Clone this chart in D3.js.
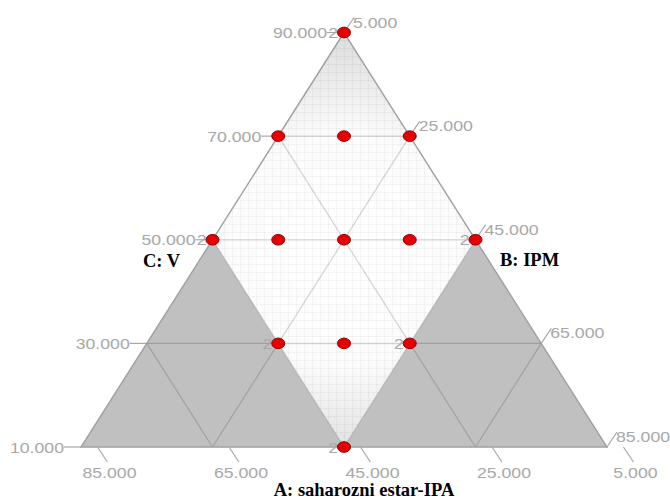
<!DOCTYPE html>
<html>
<head>
<meta charset="utf-8">
<script src="https://cdn.jsdelivr.net/npm/d3@7"></script>
<style>
  html, body { margin: 0; padding: 0; background: #fff; }
  svg { display: block; }
</style>
</head>
<body>
<svg id="chart" width="670" height="500"></svg>
<script>
// ---- data ----
const axisTicks = [10, 30, 50, 70, 90];          // C: V (left axis)
const axisTicksB = [5, 25, 45, 65, 85];          // B: IPM (right axis)
const axisTicksA = [85, 65, 45, 25, 5];          // A (bottom axis)
const gridLevels = [25, 45, 65];                 // A and B grid lines
const gridLevelsC = [30, 50, 70];                // C grid lines
const designA = [5, 25, 15, 5, 45, 35, 25, 15, 5, 45, 35, 25, 45];
const designB = [5, 5, 15, 25, 5, 15, 25, 35, 45, 25, 35, 45, 45];
const designC = [90, 70, 70, 70, 50, 50, 50, 50, 50, 30, 30, 30, 10];
const designCount = [2, 1, 1, 1, 2, 1, 1, 1, 2, 2, 1, 2, 2];
const constraintA = 45, constraintB = 45;
const titleA = "A: saharozni estar-IPA";
const titleB = "B: IPM";
const titleC = "C: V";

// ---- scales ----
const yS = d3.scaleLinear().domain([10, 90]).range([447, 32.5]);
const xS = d3.scaleLinear().domain([-80, 80]).range([81, 607]);
const P = (a, b, c) => [xS(b - a), yS(c)];
const fmt = d3.format(".3f");

const svg = d3.select("#chart");
const defs = svg.append("defs");

// shading of feasible region
const rg = defs.append("radialGradient").attr("id", "shade")
  .attr("gradientUnits", "userSpaceOnUse")
  .attr("cx", xS(0)).attr("cy", yS(48)).attr("r", 230);
rg.append("stop").attr("offset", "0").attr("stop-color", "#ffffff");
rg.append("stop").attr("offset", "0.5").attr("stop-color", "#fcfcfc");
rg.append("stop").attr("offset", "1").attr("stop-color", "#d8d8d8");

const rhombus = [P(5, 5, 90), P(constraintA, 5, 100 - constraintA - 5), P(constraintA, constraintB, 100 - constraintA - constraintB), P(5, constraintB, 100 - constraintB - 5)];
defs.append("clipPath").attr("id", "rclip").append("polygon")
  .attr("points", rhombus.map(p => p.join(",")).join(" "));

const line = d3.line();

// grey infeasible regions
const leftGrey = [P(85, 5, 10), P(constraintA, 5, 50), P(constraintA, 45, 10)];
const rightGrey = [P(5, 85, 10), P(5, constraintB, 50), P(45, constraintB, 10)];
svg.append("path").attr("d", line(leftGrey) + "Z").attr("fill", "#c0c0c0");
svg.append("path").attr("d", line(rightGrey) + "Z").attr("fill", "#c0c0c0");

// feasible region
svg.append("path").attr("d", line(rhombus) + "Z").attr("fill", "url(#shade)");
const fine = svg.append("g").attr("clip-path", "url(#rclip)")
  .attr("stroke", "#000").attr("stroke-opacity", 0.035).attr("stroke-width", 1);
d3.range(0, 500, 8).forEach(v => {
  fine.append("line").attr("x1", 0).attr("x2", 670).attr("y1", v + 0.5).attr("y2", v + 0.5);
  fine.append("line").attr("y1", 0).attr("y2", 500).attr("x1", v + 0.5).attr("x2", v + 0.5);
});

// grid lines
const grid = svg.append("g").attr("stroke", "#000").attr("stroke-opacity", 0.17).attr("stroke-width", 1.2).attr("fill", "none");
gridLevelsC.forEach(c => {
  grid.append("path").attr("d", line([P(95 - c, 5, c), P(5, 95 - c, c)]));
});
gridLevels.forEach(a => {
  grid.append("path").attr("d", line([P(a, 90 - a, 10), P(a, 5, 95 - a)]));
  grid.append("path").attr("d", line([P(90 - a, a, 10), P(5, a, 95 - a)]));
});

// triangle outline
const tri = [P(5, 5, 90), P(85, 5, 10), P(5, 85, 10)];
svg.append("path").attr("d", line(tri) + "Z").attr("fill", "none")
  .attr("stroke", "#a0a0a0").attr("stroke-width", 1.4);

// ticks and labels
const labColor = "#a8a8a8";
const tickG = svg.append("g").attr("stroke", "#a8a8a8").attr("stroke-width", 1.2);
const labG = svg.append("g").attr("font-family", "Liberation Sans, Arial, sans-serif")
  .attr("font-size", 15).attr("fill", labColor);
function lab(x, y, t, anchor) {
  labG.append("text").attr("transform", `translate(${x},${y}) scale(1.18,1)`)
    .attr("text-anchor", anchor).text(t);
}
axisTicks.forEach(c => {
  const [x, y] = P(95 - c, 5, c);
  tickG.append("line").attr("x1", x).attr("y1", y).attr("x2", x - 17).attr("y2", y);
  lab(x - 17, y + 5.5, fmt(c), "end");
});
axisTicksB.forEach(b => {
  const [x, y] = P(5, b, 95 - b);
  tickG.append("line").attr("x1", x).attr("y1", y).attr("x2", x + 10).attr("y2", y - 15);
  lab(x + 9, y - 5, fmt(b), "start");
});
axisTicksA.forEach(a => {
  const [x, y] = P(a, 95 - a, 10);
  tickG.append("line").attr("x1", x).attr("y1", y).attr("x2", x + 10).attr("y2", y + 15);
  lab(x + 12, y + 31, fmt(a), "middle");
});

// design points
const pts = designA.map((a, i) => ({ a, b: designB[i], c: designC[i], n: designCount[i] }));
pts.forEach(d => {
  const [x, y] = P(d.a, d.b, d.c);
  if (d.n > 1) lab(x - 6, y + 5.5, String(d.n), "end");
});
svg.append("g").selectAll("ellipse").data(pts).join("ellipse")
  .attr("cx", d => P(d.a, d.b, d.c)[0]).attr("cy", d => P(d.a, d.b, d.c)[1])
  .attr("rx", 6.5).attr("ry", 5.3)
  .attr("fill", "#e80000").attr("stroke", "#8a0000").attr("stroke-width", 1);

// axis titles
const tG = svg.append("g").attr("font-family", "Liberation Serif, Times New Roman, serif")
  .attr("font-weight", "bold").attr("font-size", 18.5).attr("fill", "#000");
tG.append("text").attr("x", 364).attr("y", 496).attr("text-anchor", "middle").text(titleA);
tG.append("text").attr("x", 500).attr("y", 265.5).text(titleB);
tG.append("text").attr("x", 143).attr("y", 266.5).text(titleC);
</script>
</body>
</html>
